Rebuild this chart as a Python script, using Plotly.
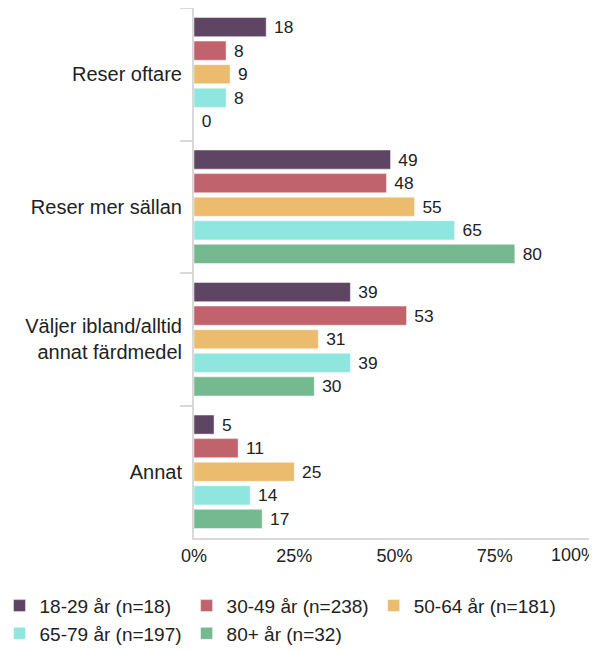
import plotly.graph_objects as go

# ---------- DATA ----------
categories = ["Reser oftare", "Reser mer sällan",
              "Väljer ibland/alltid<br>annat färdmedel", "Annat"]
groups = ["18-29 år (n=18)", "30-49 år (n=238)", "50-64 år (n=181)",
          "65-79 år (n=197)", "80+ år (n=32)"]
values_18_29 = [18, 49, 39, 5]
values_30_49 = [8, 48, 53, 11]
values_50_64 = [9, 55, 31, 25]
values_65_79 = [8, 65, 39, 14]
values_80 = [0, 80, 30, 17]
tick_vals = [0, 25, 50, 75]
tick_text = ["0%", "25%", "50%", "75%"]
# last tick goes on an overlay axis so its label can sit left of the tick
end_tick_vals = [100]
end_tick_text = ["100%"]

colors = ["#5e4563", "#c0636c", "#ebbb6e", "#8ee6df", "#74b98f"]
series = [values_18_29, values_30_49, values_50_64, values_65_79, values_80]

fig = go.Figure()
for name, vals, col in zip(groups, series, colors):
    fig.add_trace(go.Bar(
        y=categories,
        x=vals,
        name=name,
        orientation="h",
        marker=dict(color=col, line=dict(color="rgba(255,255,255,0.45)", width=1)),
        text=[str(v) for v in vals],
        texttemplate="\u00a0%{text}",
        textposition="outside",
        textfont=dict(size=20, color="#222"),
        cliponaxis=False,
    ))

# empty helper trace so the overlay axis gets drawn
fig.add_trace(go.Scatter(x=[], y=[], xaxis="x2", yaxis="y",
                         showlegend=False, hoverinfo="skip"))

axis_common = dict(
    range=[0, 100],
    showgrid=False,
    zeroline=False,
    ticks="",
    automargin=False,
    tickfont=dict(size=18),
)

# page body has an 8px margin, so the figure is 8px smaller each way
fig.update_layout(
    width=589,
    height=642,
    barmode="group",
    bargap=0.11,
    bargroupgap=0.19,
    plot_bgcolor="white",
    paper_bgcolor="white",
    font=dict(family="Liberation Sans, Arial, sans-serif", size=19, color="#222"),
    margin=dict(l=186, r=2, t=0, b=112, autoexpand=False),
    showlegend=True,
    legend=dict(
        orientation="h",
        x=-0.485, y=-0.092, xanchor="left", yanchor="top",
        font=dict(size=19, color="#222"),
        traceorder="normal",
        itemwidth=30,
    ),
    xaxis=dict(
        tickvals=tick_vals,
        ticktext=tick_text,
        showline=True,
        linecolor="#d9d9d9",
        linewidth=2,
        **axis_common,
    ),
    xaxis2=dict(
        overlaying="x",
        anchor="y",
        side="bottom",
        tickvals=end_tick_vals,
        ticktext=end_tick_text,
        ticklabelposition="outside left",
        ticklabelstandoff=4,
        ticklabelshift=2,
        showline=False,
        **axis_common,
    ),
    yaxis=dict(
        type="category",
        autorange="reversed",
        showgrid=False,
        showline=True,
        linecolor="#d9d9d9",
        linewidth=2,
        ticks="outside",
        tickson="boundaries",
        ticklen=12,
        tickcolor="#d9d9d9",
        tickwidth=2,
        ticklabelstandoff=6,
        automargin=False,
        tickfont=dict(size=20),
    ),
)

fig.write_html("out.html")
